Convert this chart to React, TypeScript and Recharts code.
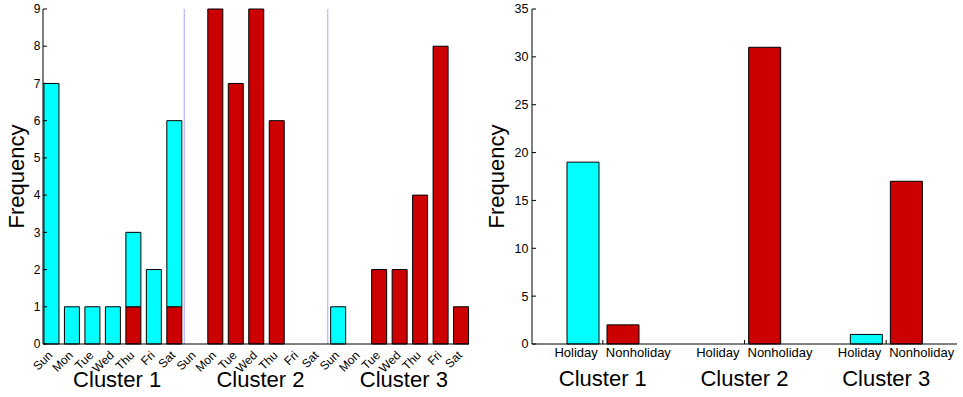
import React from 'react';
import { BarChart, Bar, XAxis, YAxis, ReferenceLine, Customized } from 'recharts';

// weekday order used inside every cluster
const DAYS = ['Sun', 'Mon', 'Tue', 'Wed', 'Thu', 'Fri', 'Sat'];
const CLUSTERS = ['Cluster 1', 'Cluster 2', 'Cluster 3'];

// left panel: 21 slots, cluster 1 / 2 / 3 laid end to end
const dayHoliday = [7, 1, 1, 1, 2, 2, 5, 0, 0, 0, 0, 0, 0, 0, 1, 0, 0, 0, 0, 0, 0];
const dayNonholiday = [0, 0, 0, 0, 1, 0, 1, 0, 9, 7, 9, 6, 0, 0, 0, 0, 2, 2, 4, 8, 1];

// right panel: totals per cluster
const clusterHoliday = [19, 0, 1];
const clusterNonholiday = [2, 31, 17];

const leftYTicks = [0, 1, 2, 3, 4, 5, 6, 7, 8, 9];
const rightYTicks = [0, 5, 10, 15, 20, 25, 30, 35];

const CYAN = '#00ffff';
const RED = '#cc0000';
const FONT = '"Liberation Sans", Arial, Helvetica, sans-serif';

const dayData = dayHoliday.map((h, i) => ({
  pos: i + 1,
  holiday: h,
  nonholiday: dayNonholiday[i],
}));
const daySlots = dayData.map((d) => d.pos);

const clusterData = clusterHoliday.map((h, i) => ({
  pos: i + 1,
  holiday: h,
  nonholiday: clusterNonholiday[i],
}));

const DayTick = (props: any) => {
  const { x, y, payload } = props;
  const i = payload.value - 1;
  const ax = x + 2;
  const ay = y + 12;
  return (
    <g>
      <text x={ax} y={ay} textAnchor="end" fontSize={12} fill="#000" fontFamily={FONT}
        transform={`rotate(-45, ${ax}, ${ay})`}>
        {DAYS[i % 7]}
      </text>
      {i % 7 === 3 && (
        <text x={x + 4.5} y={y + 43} textAnchor="middle" fontSize={22} fill="#000" fontFamily={FONT}>
          {CLUSTERS[Math.floor(i / 7)]}
        </text>
      )}
    </g>
  );
};

const ClusterTick = (props: any) => {
  const { x, y, payload } = props;
  const i = payload.value - 1;
  return (
    <g fontFamily={FONT} fill="#000">
      <text x={x - 5} y={y + 13} textAnchor="end" fontSize={13}>Holiday</text>
      <text x={x + 3} y={y + 13} textAnchor="start" fontSize={13}>Nonholiday</text>
      <text x={x} y={y + 42} textAnchor="middle" fontSize={22}>{CLUSTERS[i]}</text>
    </g>
  );
};

// rotated axis title; bx is the baseline, glyphs grow to the left of it
const YLabel = (props: any) => (
  <text x={props.bx} y={176.5} textAnchor="middle" fontSize={22} fill="#000" fontFamily={FONT}
    transform={`rotate(-90, ${props.bx}, 176.5)`}>
    Frequency
  </text>
);

const axisStroke = { stroke: '#000' };
const tickFont = { fontSize: 12, fill: '#000', fontFamily: FONT };
const tickFontR = { fontSize: 12.5, fill: '#000', fontFamily: FONT };

const App: React.FC = () => {
  return (
    <div style={{ position: 'absolute', left: 0, top: 0, width: 963, height: 397, background: '#fff' }}>
      <div style={{ position: 'absolute', left: 0, top: 0 }}>
        <BarChart width={480} height={397} data={dayData} margin={{ top: 9, right: 11, bottom: 0, left: 0 }}>
          <XAxis dataKey="pos" type="number" domain={[0.6, 21.4]} ticks={daySlots} interval={0}
            axisLine={axisStroke} tickLine={false} tickSize={0} tickMargin={0} height={53} tick={<DayTick />} />
          <XAxis xAxisId="top" orientation="top" type="number" domain={[0.6, 21.4]} ticks={daySlots}
            height={0} tick={false} tickSize={-4} axisLine={axisStroke} tickLine={axisStroke} />
          <YAxis type="number" domain={[0, 9]} ticks={leftYTicks} width={43} interval={0}
            tickSize={-4} tickMargin={6.5} axisLine={axisStroke} tickLine={axisStroke} tick={tickFont} />
          <YAxis yAxisId="right" orientation="right" type="number" domain={[0, 9]} ticks={leftYTicks}
            width={0} tick={false} tickSize={-4} axisLine={axisStroke} tickLine={axisStroke} />
          <ReferenceLine x={7.5} stroke="#c0c0ff" strokeWidth={1.5} />
          <ReferenceLine x={14.5} stroke="#c0c0ff" strokeWidth={1.5} />
          <Bar dataKey="nonholiday" stackId="d" fill={RED} stroke="#000" strokeWidth={1} barSize={15}
            isAnimationActive={false} />
          <Bar dataKey="holiday" stackId="d" fill={CYAN} stroke="#000" strokeWidth={1} barSize={15}
            isAnimationActive={false} />
          <Customized component={<YLabel bx={24} />} />
        </BarChart>
      </div>
      <div style={{ position: 'absolute', left: 480, top: 0 }}>
        <BarChart width={483} height={397} data={clusterData} barGap={8}
          margin={{ top: 9, right: 6, bottom: 0, left: 0 }}>
          <XAxis dataKey="pos" type="number" domain={[0.5, 3.5]} ticks={[1, 2, 3]} interval={0}
            axisLine={axisStroke} tickLine={axisStroke} tickSize={-4} tickMargin={4} height={53}
            tick={<ClusterTick />} />
          <XAxis xAxisId="top" orientation="top" type="number" domain={[0.5, 3.5]} ticks={[1, 2, 3]}
            height={0} tick={false} tickSize={-4} axisLine={axisStroke} tickLine={axisStroke} />
          <YAxis type="number" domain={[0, 35]} ticks={rightYTicks} width={52} interval={0}
            tickSize={-4} tickMargin={7.5} axisLine={axisStroke} tickLine={axisStroke} tick={tickFontR} />
          <YAxis yAxisId="right" orientation="right" type="number" domain={[0, 35]} ticks={rightYTicks}
            width={0} tick={false} tickSize={-4} axisLine={axisStroke} tickLine={axisStroke} />
          <Bar dataKey="holiday" fill={CYAN} stroke="#000" strokeWidth={1} barSize={32}
            isAnimationActive={false} />
          <Bar dataKey="nonholiday" fill={RED} stroke="#000" strokeWidth={1} barSize={32}
            isAnimationActive={false} />
          <Customized component={<YLabel bx={24} />} />
        </BarChart>
      </div>
    </div>
  );
};

export default App;
